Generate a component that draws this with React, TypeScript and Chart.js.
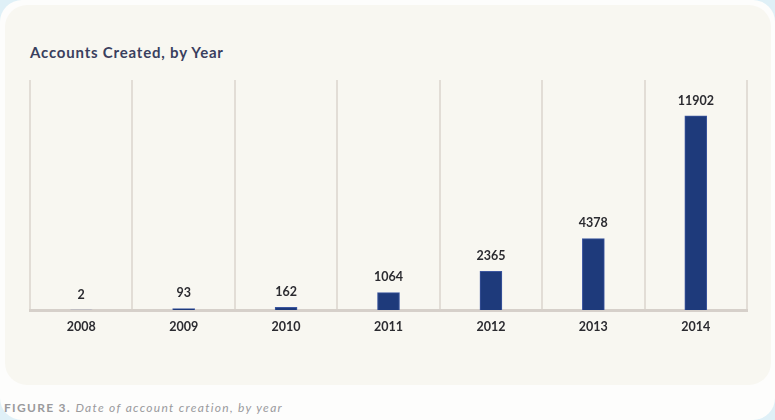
import React, { useEffect, useRef } from "react";
import { Chart, registerables } from "chart.js";

Chart.register(...registerables);

const years = ["2008", "2009", "2010", "2011", "2012", "2013", "2014"];
const accounts = [2, 93, 162, 1064, 2365, 4378, 11902];
const yMax = 14100;

const valueLabels = {
  id: "valueLabels",
  afterDatasetsDraw(chart: any) {
    const ctx = chart.ctx;
    const meta = chart.getDatasetMeta(0);
    ctx.save();
    ctx.font = "bold 12.5px Lato, 'Open Sans', sans-serif";
    ctx.fillStyle = "#2b2b30";
    ctx.textAlign = "center";
    ctx.textBaseline = "bottom";
    meta.data.forEach((bar: any, i: number) => {
      ctx.fillText(String(accounts[i]), bar.x, bar.y - 9);
    });
    ctx.restore();
  },
};

export default function App() {
  const ref = useRef<HTMLCanvasElement | null>(null);
  useEffect(() => {
    document.body.style.margin = "0";
    if (!ref.current) return;
    const chart = new Chart(ref.current, {
      type: "bar",
      data: {
        labels: years,
        datasets: [
          {
            data: accounts,
            backgroundColor: "#1e3a7b",
            borderColor: "#3d57a0",
            borderWidth: 1,
            barThickness: 22,
          },
        ],
      },
      options: {
        animation: false,
        responsive: false,
        maintainAspectRatio: false,
        layout: { padding: { left: 30, right: 28, top: 80, bottom: 2 } },
        plugins: { legend: { display: false }, tooltip: { enabled: false }, title: { display: false } },
        scales: {
          x: {
            offset: true,
            grid: { display: true, offset: true, color: "#e2ddd6", lineWidth: 2, drawTicks: false },
            border: { display: true, color: "#d6d0ca", width: 3 },
            ticks: {
              padding: 9,
              color: "#2b2b30",
              font: { family: "Lato, 'Open Sans', sans-serif", size: 12.5, weight: "bold" },
            },
          },
          y: { display: false, min: 0, max: yMax },
        },
      },
      plugins: [valueLabels],
    });
    return () => chart.destroy();
  }, []);

  return (
    <div style={{ position: "relative", width: 775, height: 420, background: "#dff0f7", overflow: "hidden" }}>
      <div style={{ position: "absolute", left: 0, top: 0, width: 775, height: 420, background: "#fdfdfc", borderRadius: 22 }} />
      <div style={{ position: "absolute", left: 5, top: 5, width: 766, height: 380, background: "#f8f7f1", borderRadius: 22 }} />
      <div
        style={{
          position: "absolute",
          left: 30,
          top: 43,
          fontFamily: "Lato, 'Open Sans', sans-serif",
          fontWeight: 700,
          fontSize: 15,
          letterSpacing: 0.8,
          color: "#3a3f5e",
          whiteSpace: "nowrap",
        }}
      >
        Accounts Created, by Year
      </div>
      <canvas ref={ref} width={775} height={345} style={{ position: "absolute", left: 0, top: 0 }} />
      <div
        style={{
          position: "absolute",
          left: 4,
          top: 400,
          fontFamily: "Lato, 'Open Sans', sans-serif",
          fontSize: 12,
          letterSpacing: 1.3,
          color: "#9a9a9c",
          whiteSpace: "nowrap",
        }}
      >
        <span style={{ fontWeight: 700 }}>FIGURE 3.</span> <span style={{ fontStyle: "italic" }}>Date of account creation, by year</span>
      </div>
    </div>
  );
}
